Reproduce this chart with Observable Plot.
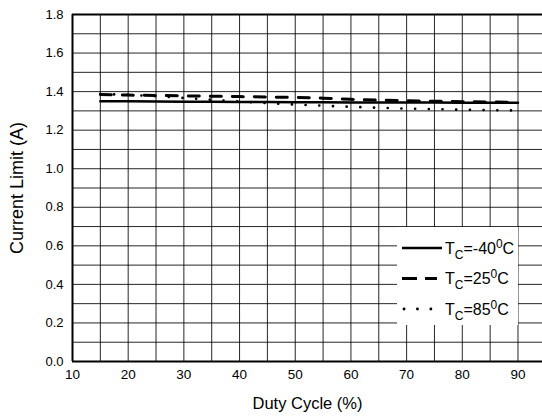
<!DOCTYPE html>
<html><head><meta charset="utf-8">
<script src="https://cdn.jsdelivr.net/npm/d3@7"></script>
<script src="https://cdn.jsdelivr.net/npm/@observablehq/plot@0.6"></script>
<style>body{margin:0;background:#fff;font-family:"Liberation Sans",Arial,sans-serif;}</style>
</head><body><div id="chart"></div>
<script>
const duty = [15,20,25,30,35,40,45,50,55,60,65,70,75,80,85,90];
const tm40 = [1.350,1.350,1.349,1.348,1.347,1.346,1.346,1.345,1.345,1.344,1.344,1.343,1.343,1.342,1.342,1.342];
const t25  = [1.385,1.382,1.380,1.378,1.376,1.374,1.372,1.370,1.366,1.360,1.356,1.353,1.350,1.348,1.346,1.345];
const t85  = [1.388,1.383,1.376,1.367,1.358,1.349,1.340,1.333,1.327,1.321,1.316,1.312,1.309,1.306,1.304,1.302];
const xTicks = [10,20,30,40,50,60,70,80,90];
const yTicks = [0,0.2,0.4,0.6,0.8,1.0,1.2,1.4,1.6,1.8];
const xGrid = d3.range(10, 95, 5);
const yGrid = d3.range(0, 18).map(i => i/10);
const seriesNames = ["-40","25","85"];

const rows = duty.map((d,i)=>({d, a:tm40[i], b:t25[i], c:t85[i]}));

const plot = Plot.plot({
  width: 542, height: 420,
  marginTop: 14, marginBottom: 59, marginLeft: 72, marginRight: 0,
  style: {fontFamily: '"Liberation Sans", Arial, sans-serif', fontSize: "13px", color: "#000", background: "#fff"},
  x: {domain: [10, 94.4], label: null},
  y: {domain: [0, 1.8], label: null},
  marks: [
    Plot.ruleX(xGrid.slice(1), {stroke: "#000", strokeWidth: 1, strokeOpacity: 0.85}),
    Plot.ruleY(yGrid.slice(1), {stroke: "#000", strokeWidth: 1, strokeOpacity: 0.85}),
    Plot.ruleX([10], {stroke: "#000", strokeWidth: 2}),
    Plot.ruleY([0, 1.8], {stroke: "#000", strokeWidth: 2}),
    Plot.axisX({ticks: xTicks, tickSize: 0, tickPadding: 8, fontSize: 13.5, label: null}),
    Plot.axisY({ticks: yTicks, tickSize: 0, tickPadding: 9, fontSize: 13, tickFormat: d3.format(".1f"), label: null}),
    Plot.axisX({ticks: [], fontSize: 16.5, label: "Duty Cycle (%)", labelAnchor: "center", labelArrow: "none", labelOffset: 47}),
    Plot.axisY({ticks: [], fontSize: 18, label: "Current Limit (A)", labelAnchor: "center", labelArrow: "none", labelOffset: 62}),
    Plot.line(rows, {x: "d", y: "a", stroke: "#000", strokeWidth: 2.5}),
    Plot.line(rows, {x: "d", y: "b", stroke: "#000", strokeWidth: 3, strokeDasharray: "11,11"}),
    Plot.line(rows, {x: "d", y: "c", stroke: "#000", strokeWidth: 2.6, strokeDasharray: "0.1,13.6", strokeLinecap: "round"})
  ]
});
document.getElementById("chart").appendChild(plot);

// legend
const svg = d3.select(plot);
const lg = svg.append("g").attr("text-anchor", "start");
lg.append("rect").attr("x", 397).attr("y", 227).attr("width", 121).attr("height", 98).attr("fill", "#fff");
const styles = [
  {w: 2.5, dash: null, cap: "butt", x1: 402, x2: 442},
  {w: 3, dash: "15,8", cap: "butt", x1: 402, x2: 437},
  {w: 2.8, dash: "0.1,13.3", cap: "round", x1: 404, x2: 434}
];
seriesNames.forEach((n, i) => {
  const y = 248 + i*30.5;
  const s = styles[i];
  const l = lg.append("line").attr("x1", s.x1).attr("x2", s.x2).attr("y1", y).attr("y2", y)
    .attr("stroke", "#000").attr("stroke-width", s.w).attr("stroke-linecap", s.cap);
  if (s.dash) l.attr("stroke-dasharray", s.dash);
  const t = lg.append("text").attr("x", 445).attr("y", y + 5.5)
    .attr("font-family", '"Liberation Sans", Arial, sans-serif').attr("font-size", 16).attr("fill", "#000");
  t.append("tspan").text("T");
  t.append("tspan").attr("font-size", 12).attr("dy", 5).text("C");
  t.append("tspan").attr("dy", -5).text("=" + n);
  t.append("tspan").attr("font-size", 12).attr("dy", -6).text("0");
  t.append("tspan").attr("dy", 6).text("C");
});
</script></body></html>
